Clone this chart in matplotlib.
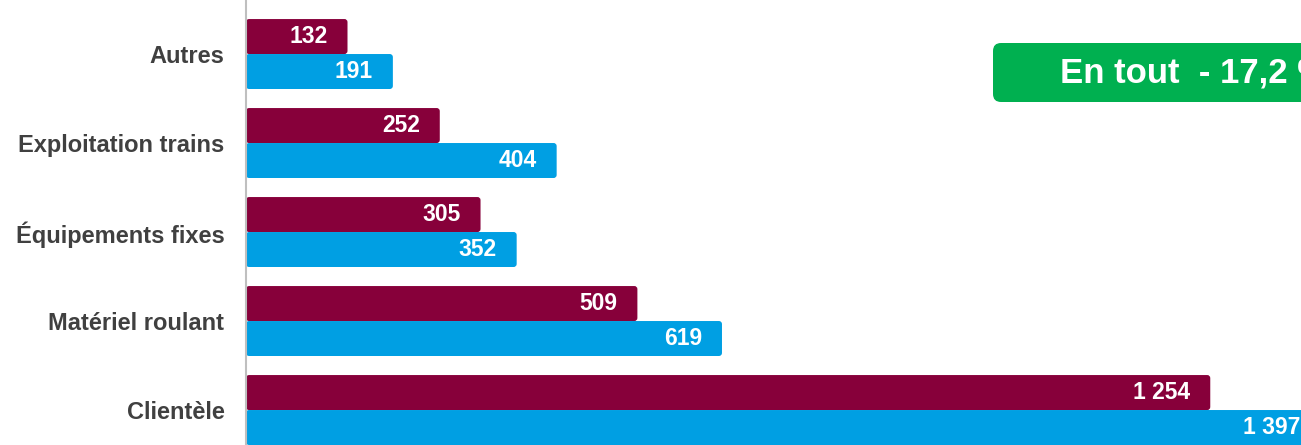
"""Horizontal bar chart: two years by category, with total change box."""

import matplotlib

matplotlib.use("Agg")
import matplotlib.pyplot as plt
from matplotlib.patches import FancyBboxPatch

categories = ["Autres", "Exploitation trains", "Équipements fixes",
              "Matériel roulant", "Clientèle"]
recent = [132, 252, 305, 509, 1254]
previous = [191, 404, 352, 619, 1397]
total_text = "En tout  - 17,2 %"

MAROON = "#87003A"
BLUE = "#009FE3"
GREEN = "#00B050"

plt.rcParams["font.family"] = ["Liberation Sans", "DejaVu Sans"]

W, H = 1301, 445
fig = plt.figure(figsize=(W / 100, H / 100), dpi=100)
ax = fig.add_axes([246 / W, 0, 1 - 246 / W, 1])

xmax = 1372
ax.set_xlim(0, xmax)
ax.set_ylim(4.393, -0.607)

bar_h = 0.393
px_x = (W - 246) / xmax       # pixels per data unit on x
px_y = H / 5.0                # pixels per data unit on y
aspect = px_x / px_y


def rounded_bar(y0, width, color):
    r = 4.0
    p = FancyBboxPatch((0, y0), width, bar_h,
                       boxstyle=f"round,pad=0,rounding_size={r}",
                       mutation_aspect=aspect, fc=color, ec="none",
                       clip_on=True)
    ax.add_patch(p)


def fmt(v):
    return f"{v:,}".replace(",", " ")


for i, (a, b) in enumerate(zip(recent, previous)):
    rounded_bar(i - bar_h, a, MAROON)
    rounded_bar(i, b, BLUE)
    ax.annotate(fmt(a), (a, i - bar_h / 2), xytext=(-14.5, 0),
                textcoords="offset points", ha="right", va="center",
                color="white", fontsize=16.5, fontweight="bold")
    ax.annotate(fmt(b), (min(b, xmax + 26), i + bar_h / 2), xytext=(-14.5, 0),
                textcoords="offset points", ha="right", va="center",
                color="white", fontsize=16.5, fontweight="bold",
                annotation_clip=False)

ax.set_yticks(range(len(categories)))
ax.set_yticklabels(categories, fontsize=17, fontweight="bold", color="#404040")
ax.tick_params(axis="y", length=0, pad=15.5)
ax.set_xticks([])
for s in ["top", "right", "bottom"]:
    ax.spines[s].set_visible(False)
ax.spines["left"].set_color("#BFBFBF")
ax.spines["left"].set_linewidth(1.5)
ax.set_zorder(2)
ax.patch.set_visible(False)

# green summary box (partly outside the figure on the right)
box = FancyBboxPatch((993 / W, 1 - 102 / H), 400 / W, 59 / H,
                     boxstyle=f"round,pad=0,rounding_size={8 / W}",
                     mutation_aspect=W / H, transform=fig.transFigure,
                     fc=GREEN, ec="none")
fig.patches.append(box)
fig.text(1060 / W, 1 - 73 / H, total_text, color="white", fontsize=25,
         fontweight="bold", va="center", ha="left")

fig.savefig("out.png", dpi=100)
